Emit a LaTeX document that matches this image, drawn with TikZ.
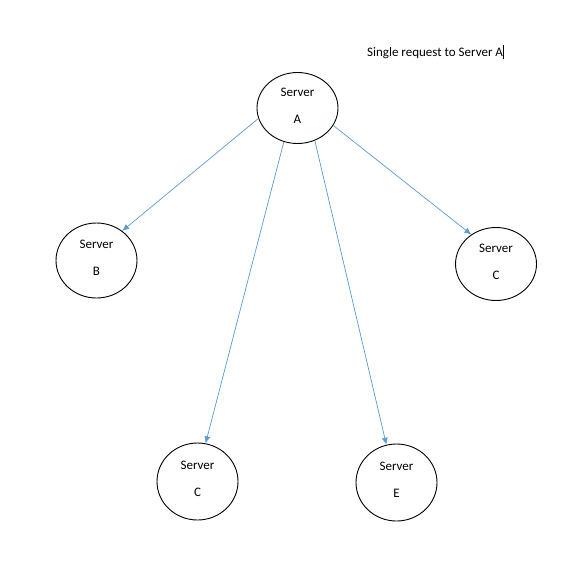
\documentclass[tikz,border=0pt]{standalone}
\usepackage{fontspec}
\setmainfont{Carlito}
\usetikzlibrary{shapes.geometric,arrows.meta}
\definecolor{linkblue}{RGB}{91,155,213}

\begin{document}
\begin{tikzpicture}[x=1pt, y=-1pt, font=\fontsize{13}{27}\selectfont,
  server/.style={ellipse, draw, line width=0.9pt, minimum width=81pt, minimum height=75pt, inner sep=0pt, text depth=5pt, align=center},
  link/.style={-{Latex[length=7pt,width=6pt]}, color=linkblue, line width=0.7pt}]
  \useasboundingbox[fill=white] (0,0) rectangle (585,568);
  % servers
  \node[server, minimum height=71pt] (srvA) at (297.5,108) {Server\\A};
  \node[server] (srvB) at (96.5,260.5) {Server\\B};
  \node[server, minimum height=73pt] (srvCr) at (496,264) {Server\\C};
  \node[server, minimum height=77pt] (srvCb) at (197.5,481.5) {Server\\C};
  \node[server, minimum height=77pt] (srvE) at (396.5,482.5) {Server\\E};
  % note
  \node[anchor=west, inner sep=0pt] (note) at (367,52) {Single request to Server A\rule[-3pt]{0.7pt}{14pt}};
  % requests
  \draw[link] (srvA.195) -- (srvB.49);
  \draw[link] (srvA.248) -- (srvCb.78);
  \draw[link] (srvA.298) -- (srvE.105);
  \draw[link] (srvA.334) -- (srvCr.130);
\end{tikzpicture}
\end{document}
